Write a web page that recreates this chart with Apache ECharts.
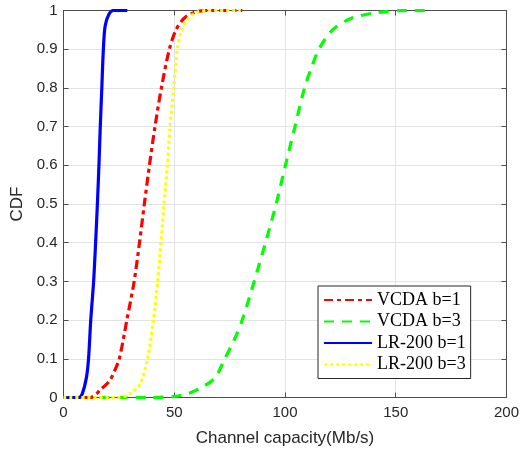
<!DOCTYPE html>
<html>
<head>
<meta charset="utf-8">
<script src="https://cdn.jsdelivr.net/npm/echarts@6/dist/echarts.min.js"></script>
<style>
  html, body { margin: 0; padding: 0; background: #fff; }
  #chart { width: 522px; height: 454px; }
</style>
</head>
<body>
<div id="chart"></div>
<script>
// ---- Data ----
const xTicks = [0, 50, 100, 150, 200];
const yTicks = [0, 0.1, 0.2, 0.3, 0.4, 0.5, 0.6, 0.7, 0.8, 0.9, 1];

const seriesNames = ['VCDA b=1', 'VCDA b=3', 'LR-200 b=1', 'LR-200 b=3'];

// VCDA b=1
const vcda1X = [0, 12, 15, 16.5, 19, 21, 23, 25.2, 28.6, 31.9, 34.3, 36.5, 38.8, 41.3, 44.2, 47.8, 50.8, 54.5, 59, 65, 80.7];
const vcda1Y = [0, 0, 0.01, 0.02, 0.032, 0.045, 0.068, 0.1, 0.2, 0.3, 0.4, 0.5, 0.6, 0.7, 0.8, 0.9, 0.95, 0.98, 0.995, 1, 1];

// VCDA b=3
const vcda3X = [0, 40, 50, 56, 62, 68.3, 72.8, 77, 80.7, 86.1, 91.2, 96, 100.2, 104.5, 108.8, 112, 115.3, 121.5, 130, 142, 155, 166];
const vcda3Y = [0, 0, 0.003, 0.01, 0.025, 0.05, 0.1, 0.148, 0.2, 0.3, 0.4, 0.5, 0.6, 0.7, 0.8, 0.853, 0.9, 0.95, 0.98, 0.995, 1, 1];

// LR-200 b=1
const lr1X = [0, 7, 8.5, 10.3, 11.3, 12.3, 13.6, 14.5, 15.3, 16, 16.6, 17.3, 18, 18.8, 20.5, 22.5, 28.8];
const lr1Y = [0, 0, 0.01, 0.05, 0.1, 0.2, 0.3, 0.4, 0.5, 0.6, 0.7, 0.8, 0.9, 0.96, 0.99, 1, 1];

// LR-200 b=3
const lr3X = [0, 25, 30, 34.6, 37.9, 40.6, 42.5, 44, 45.4, 46.9, 48.1, 49.8, 51.4, 53.4, 56.4, 60, 65, 80];
const lr3Y = [0, 0, 0.01, 0.035, 0.1, 0.2, 0.3, 0.4, 0.5, 0.6, 0.7, 0.8, 0.9, 0.95, 0.98, 0.995, 1, 1];

function pairs(xs, ys) { return xs.map((x, i) => [x, ys[i]]); }

const chart = echarts.init(document.getElementById('chart'), null, { renderer: 'canvas' });

const axisColor = '#4d4d4d';
const labelColor = '#262626';
const gridColor = '#e3e3e3';

function mkLine(name, xs, ys, color, type, z) {
  return {
    name: name,
    type: 'line',
    data: pairs(xs, ys),
    showSymbol: false,
    symbol: 'none',
    smooth: 0.3,
    z: z,
    lineStyle: { color: color, width: 3.2, type: type, cap: 'butt' },
    itemStyle: { color: color }
  };
}

const option = {
  animation: false,
  backgroundColor: '#ffffff',
  grid: { left: 63.5, right: 15, top: 10.5, bottom: 56.5, show: false },
  legend: {
    show: true,
    data: seriesNames,
    orient: 'vertical',
    left: 318,
    top: 286,
    itemWidth: 48,
    itemHeight: 14,
    itemGap: 3.5,
    padding: [5, 5, 5, 5],
    backgroundColor: '#ffffff',
    borderColor: '#262626',
    borderWidth: 1,
    borderRadius: 0,
    itemStyle: { opacity: 0 },
    textStyle: { fontFamily: 'Liberation Serif', fontSize: 18, color: '#000', lineHeight: 18 }
  },
  xAxis: [
    {
      type: 'value', min: 0, max: 200, interval: 50, position: 'bottom',
      name: 'Channel capacity(Mb/s)', nameLocation: 'middle', nameGap: 32,
      nameTextStyle: { fontFamily: 'Liberation Sans', fontSize: 17, color: labelColor },
      axisLine: { show: true, onZero: false, lineStyle: { color: axisColor, width: 1 } },
      axisTick: { show: true, inside: true, length: 5, lineStyle: { color: axisColor } },
      axisLabel: { fontFamily: 'Liberation Sans', fontSize: 15, color: labelColor, margin: 8,
        formatter: v => (xTicks.indexOf(v) >= 0 ? String(v) : '') },
      splitLine: { show: true, lineStyle: { color: gridColor, width: 1 } }
    },
    {
      type: 'value', min: 0, max: 200, interval: 50, position: 'top',
      axisLine: { show: true, onZero: false, lineStyle: { color: axisColor, width: 1 } },
      axisTick: { show: true, inside: true, length: 5, lineStyle: { color: axisColor } },
      axisLabel: { show: false },
      splitLine: { show: false }
    }
  ],
  yAxis: [
    {
      type: 'value', min: 0, max: 1, interval: 0.1, position: 'left',
      name: 'CDF', nameLocation: 'middle', nameGap: 32, nameRotate: 90,
      nameTextStyle: { fontFamily: 'Liberation Sans', fontSize: 17, color: labelColor },
      axisLine: { show: true, onZero: false, lineStyle: { color: axisColor, width: 1 } },
      axisTick: { show: true, inside: true, length: 5, lineStyle: { color: axisColor } },
      axisLabel: { fontFamily: 'Liberation Sans', fontSize: 15, color: labelColor, margin: 6,
        formatter: v => {
          const r = Math.round(v * 10) / 10;
          return r === 0 ? '0' : (r === 1 ? '1' : r.toFixed(1));
        } },
      splitLine: { show: true, lineStyle: { color: gridColor, width: 1 } }
    },
    {
      type: 'value', min: 0, max: 1, interval: 0.1, position: 'right',
      axisLine: { show: true, onZero: false, lineStyle: { color: axisColor, width: 1 } },
      axisTick: { show: true, inside: true, length: 5, lineStyle: { color: axisColor } },
      axisLabel: { show: false },
      splitLine: { show: false }
    }
  ],
  series: [
    mkLine(seriesNames[0], vcda1X, vcda1Y, '#ff0000', [9, 4, 4, 4], 3),
    mkLine(seriesNames[1], vcda3X, vcda3Y, '#00ff00', [10, 8], 2),
    mkLine(seriesNames[2], lr1X, lr1Y, '#0000ff', 'solid', 4),
    mkLine(seriesNames[3], lr3X, lr3Y, '#ffff00', [3, 3], 5)
  ]
};

chart.setOption(option);
</script>
</body>
</html>
